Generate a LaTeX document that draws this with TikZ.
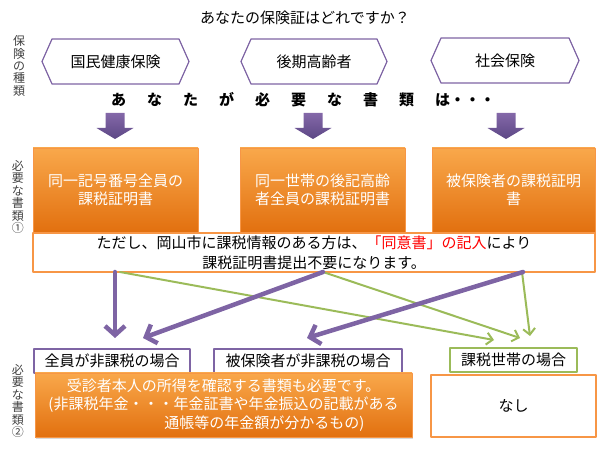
\documentclass[tikz,border=0pt]{standalone}
\usepackage{fontspec}
\setmainfont{Noto Sans CJK JP}
\usetikzlibrary{shapes.symbols,arrows.meta,shadows}
\definecolor{hexpurple}{HTML}{7E64A4}
\definecolor{arrowtop}{HTML}{8468A8}
\definecolor{arrowbot}{HTML}{5C4785}
\definecolor{orangetop}{HTML}{F9A84B}
\definecolor{orangebot}{HTML}{E2700F}
\definecolor{orangeline}{HTML}{F79646}
\definecolor{leafgreen}{HTML}{9BBB59}
\definecolor{sidegray}{HTML}{404040}
\begin{document}
\begin{tikzpicture}[x=1pt,y=-1pt,font=\fontsize{15}{18}\selectfont,line join=round,line cap=round,
  hexa/.style={shape=signal,signal to=west and east,signal pointer angle=132,draw=hexpurple,line width=1.2pt,fill=white,minimum height=45pt,inner sep=0pt},
  obox/.style={rectangle,top color=orangetop,bottom color=orangebot,draw=orangeline,line width=0.8pt,text=white,align=center,inner sep=0pt,drop shadow={shadow xshift=1pt,shadow yshift=-1.5pt,opacity=0.3}},
  wbox/.style={rectangle,draw=orangeline,line width=1.2pt,fill=white,align=center,inner sep=0pt},
  case/.style={rectangle,draw=#1,line width=1.2pt,fill=white,inner sep=0pt,minimum height=24pt},
  vlabel/.style={align=center,text=sidegray,font=\fontsize{12}{12.4}\selectfont,inner sep=0pt},
  pline/.style={draw=hexpurple,line width=4.5pt,-{Straight Barb[length=9pt,width=20pt]}},
  gline/.style={draw=leafgreen,line width=2pt,-{Straight Barb[length=6pt,width=12pt]}}]
\useasboundingbox (0,0) rectangle (600,454);
% title and side labels
\node (title) at (305,18) {あなたの保険証はどれですか？};
\node[vlabel] (vtype) at (19,66) {保\\険\\の\\種\\類};
\node[vlabel] (vdoc1) at (18,197) {必\\要\\な\\書\\類\\①};
\node[vlabel] (vdoc2) at (18,401) {必\\要\\な\\書\\類\\②};
% kinds of insurance
\node[hexa,minimum width=147pt] (kokuho) at (115.5,61.5) {国民健康保険};
\node[hexa,minimum width=146pt] (kouki) at (314,61.5) {後期高齢者};
\node[hexa,minimum width=148pt] (shaho) at (505,60.5) {社会保険};
\node[font=\fontsize{15}{18}\selectfont\bfseries] (needs) at (303,100)
  {あ\hspace{21pt}な\hspace{21pt}た\hspace{21pt}が\hspace{21pt}必\hspace{21pt}要\hspace{21pt}な\hspace{21pt}書\hspace{21pt}類\hspace{21pt}は・・・};
\foreach \c in {115,313,506}
  \shade[top color=arrowtop,bottom color=arrowbot] (\c-9.5,113) -- (\c+9.5,113) -- (\c+9.5,128) -- (\c+18.5,128)
    -- (\c,139) -- (\c-18.5,128) -- (\c-9.5,128) -- cycle;
% documents 1
\node[obox,minimum width=165pt,minimum height=84pt] (docA) at (115.5,190) {同一記号番号全員の\\課税証明書};
\node[obox,minimum width=165pt,minimum height=84pt] (docB) at (322.5,190) {同一世帯の後記高齢\\者全員の課税証明書};
\node[obox,minimum width=163pt,minimum height=84pt] (docC) at (513.5,190) {被保険者の課税証明\\書};
\node[wbox,minimum width=562pt,minimum height=39pt,font=\fontsize{15}{20}\selectfont] (note) at (314,252.5)
  {ただし、岡山市に課税情報のある方は、\textcolor{red}{「同意書」の記入}により\\課税証明書提出不要になります。};
% cases
\node[case=hexpurple,minimum width=156pt] (allfree) at (112,361) {全員が非課税の場合};
\node[case=hexpurple,minimum width=188pt] (insfree) at (308,361) {被保険者が非課税の場合};
\node[case=leafgreen,minimum width=127pt] (taxed) at (513.5,360) {課税世帯の場合};
% documents 2
\node[obox,minimum width=377pt,minimum height=64pt,font=\fontsize{15}{18.5}\selectfont] (docD) at (223.5,405)
  {受診者本人の所得を確認する書類も必要です。\\(非課税年金・・・年金証書や年金振込の記載がある\\\hspace*{82pt}通帳等の年金額が分かるもの)};
\node[wbox,minimum width=165pt,minimum height=62pt] (none) at (513.5,406) {なし};
% connectors
\coordinate (pa) at (115,272);
\coordinate (pb) at (323,272);
\coordinate (pc) at (523,272);
\coordinate (ga) at (120,272);
\coordinate (gc) at (522,272);
\coordinate (ta) at (115,338);
\coordinate (tb) at (143,338);
\coordinate (tc) at (307,338);
\coordinate (ua) at (494,340);
\coordinate (ub) at (520,338);
\coordinate (uc) at (530,336);
\draw[gline] (ga) -- (ua);
\draw[gline] (pb) -- (ub);
\draw[gline] (gc) -- (uc);
\draw[pline] (pa) -- (ta);
\draw[pline] (pb) -- (tb);
\draw[pline] (pc) -- (tc);
\end{tikzpicture}
\end{document}
